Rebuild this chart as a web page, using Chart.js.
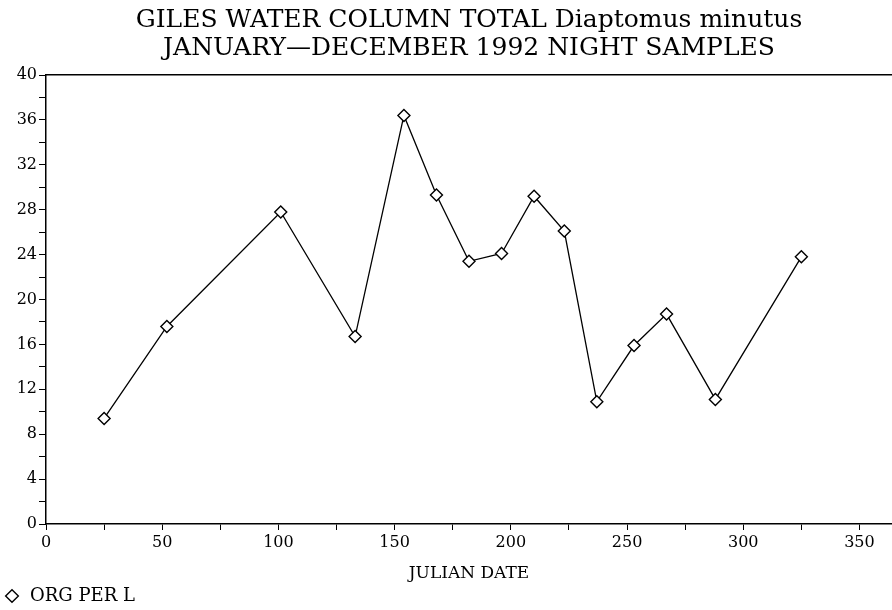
<!DOCTYPE html>
<html lang="en">
<head>
    <meta charset="UTF-8">
    <title>Giles Water Column Total Diaptomus minutus</title>
    <script src="https://cdn.jsdelivr.net/npm/chart.js"></script>
    <style>
        body { margin: 0; background: #fff; overflow: hidden; }
        #wrap { width: 892px; height: 610px; }
    </style>
</head>
<body>
    <div id="wrap"><canvas id="chart"></canvas></div>

    <script>
        // Julian date of each night sample, and organisms per litre
        const julianDays = [25, 52, 101, 133, 154, 168, 182, 196, 210, 223, 237, 253, 267, 288, 325];
        const orgPerL = [9.4, 17.6, 27.8, 16.7, 36.4, 29.3, 23.4, 24.1, 29.2, 26.1, 10.9, 15.9, 18.7, 11.1, 23.8];

        const titleLines = ['GILES WATER COLUMN TOTAL Diaptomus minutus', 'JANUARY\u2014DECEMBER 1992 NIGHT SAMPLES'];
        const xTitle = 'JULIAN DATE';
        const seriesLabel = 'ORG PER L';

        Chart.defaults.font.family = "'DejaVu Serif', serif";
        Chart.defaults.color = '#000';

        const points = julianDays.map((d, i) => ({ x: d, y: orgPerL[i] }));

        new Chart(document.getElementById('chart'), {
            type: 'line',
            data: {
                datasets: [{
                    label: seriesLabel,
                    data: points,
                    borderColor: '#000',
                    borderWidth: 1.3,
                    pointStyle: 'rectRot',
                    pointRadius: 6,
                    pointBorderWidth: 1.4,
                    pointBorderColor: '#000',
                    pointBackgroundColor: '#fff',
                    tension: 0
                }]
            },
            options: {
                responsive: true,
                maintainAspectRatio: false,
                animation: false,
                // no auto padding, so the frame runs to the right edge
                layout: { autoPadding: false, padding: { left: 0, right: 0, top: 0, bottom: -5 } },
                plugins: {
                    title: {
                        display: true,
                        text: titleLines,
                        fullSize: false,
                        font: { size: 25, weight: 'normal', lineHeight: 1.1 },
                        padding: { top: 7, bottom: 13 }
                    },
                    legend: {
                        position: 'bottom',
                        align: 'start',
                        labels: {
                            usePointStyle: true,
                            pointStyle: 'rectRot',
                            boxWidth: 18,
                            boxHeight: 9,
                            padding: 3,
                            font: { size: 18 }
                        }
                    },
                    tooltip: { enabled: false }
                },
                scales: {
                    x: {
                        type: 'linear',
                        min: 0,
                        max: 364,
                        border: { color: '#000', width: 1.5 },
                        grid: { drawOnChartArea: false, tickLength: 6, color: '#000' },
                        ticks: {
                            stepSize: 25,
                            includeBounds: false,
                            autoSkip: false,
                            maxRotation: 0,
                            padding: 3,
                            font: { size: 16 },
                            callback: v => (v % 50 === 0 ? v : '')
                        },
                        title: { display: true, text: xTitle, font: { size: 17 }, padding: { top: 4, bottom: 0 } },
                        afterFit: s => { s.height = 60; s.paddingLeft = 0; s.paddingRight = 0; }
                    },
                    xTop: {
                        type: 'linear',
                        position: 'top',
                        min: 0,
                        max: 364,
                        border: { color: '#000', width: 1.5 },
                        grid: { display: false },
                        ticks: { display: false },
                        afterFit: s => { s.height = 0; s.paddingLeft = 0; s.paddingRight = 0; }
                    },
                    y: {
                        min: 0,
                        max: 40,
                        border: { color: '#000', width: 1.5 },
                        grid: { drawOnChartArea: false, tickLength: 7, color: '#000' },
                        ticks: {
                            stepSize: 2,
                            autoSkip: false,
                            padding: 2,
                            font: { size: 16 },
                            callback: v => (v % 4 === 0 ? v : '')
                        },
                        afterFit: s => { s.width = 46; }
                    }
                }
            }
        });
    </script>
</body>
</html>
